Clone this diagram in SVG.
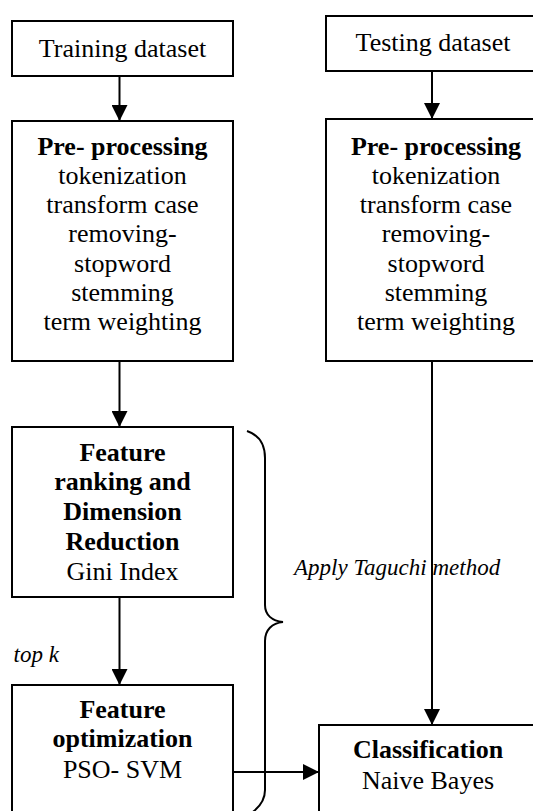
<svg xmlns="http://www.w3.org/2000/svg" width="533" height="811" viewBox="0 0 533 811">
<style>
.box{fill:#fff;stroke:#000;stroke-width:2}
.t{font-family:"Liberation Serif","Times New Roman",serif;font-size:26px;fill:#000;text-anchor:middle}
.b{font-weight:bold}
.i{font-family:"Liberation Serif","Times New Roman",serif;font-size:23px;font-style:italic;fill:#000}
.ln{fill:none;stroke:#000;stroke-width:2}
</style>
<defs>
<marker id="ah" markerWidth="16" markerHeight="16" refX="16" refY="8" orient="auto" markerUnits="userSpaceOnUse">
<path d="M0,0 L16,8 L0,16 Z" fill="#000"/>
</marker>
</defs>
<rect width="533" height="811" fill="#fff"/>
<g id="training">
<rect class="box" x="12" y="21" width="221" height="55"/>
<text class="t" x="122.5" y="57">Training dataset</text>
</g>
<g id="testing">
<rect class="box" x="326" y="16" width="220" height="55"/>
<text class="t" x="433" y="51">Testing dataset</text>
</g>
<g id="preproc-train">
<rect class="box" x="12" y="121" width="221" height="240"/>
<text class="t b" x="122.5" y="155">Pre- processing</text>
<text class="t" x="122.5" y="184">tokenization</text>
<text class="t" x="122.5" y="213">transform case</text>
<text class="t" x="122.5" y="242">removing-</text>
<text class="t" x="122.5" y="272">stopword</text>
<text class="t" x="122.5" y="301">stemming</text>
<text class="t" x="122.5" y="330">term weighting</text>
</g>
<g id="preproc-test">
<rect class="box" x="326" y="119" width="220" height="242"/>
<text class="t b" x="436" y="155">Pre- processing</text>
<text class="t" x="436" y="184">tokenization</text>
<text class="t" x="436" y="213">transform case</text>
<text class="t" x="436" y="242">removing-</text>
<text class="t" x="436" y="272">stopword</text>
<text class="t" x="436" y="301">stemming</text>
<text class="t" x="436" y="330">term weighting</text>
</g>
<g id="ranking">
<rect class="box" x="12" y="427" width="221" height="170"/>
<text class="t b" x="122.5" y="461">Feature</text>
<text class="t b" x="122.5" y="490">ranking and</text>
<text class="t b" x="122.5" y="520">Dimension</text>
<text class="t b" x="122.5" y="550">Reduction</text>
<text class="t" x="122.5" y="580">Gini Index</text>
</g>
<g id="optimization">
<rect class="box" x="12" y="685" width="221" height="140"/>
<text class="t b" x="122.5" y="718">Feature</text>
<text class="t b" x="122.5" y="747">optimization</text>
<text class="t" x="122.5" y="778">PSO- SVM</text>
</g>
<g id="classification">
<rect class="box" x="319" y="725" width="220" height="100"/>
<text class="t b" x="428" y="758">Classification</text>
<text class="t" x="428" y="789">Naive Bayes</text>
</g>
<g id="connectors">
<line class="ln" x1="119.5" y1="76" x2="119.5" y2="121" marker-end="url(#ah)"/>
<line class="ln" x1="432" y1="71" x2="432" y2="119" marker-end="url(#ah)"/>
<line class="ln" x1="119.5" y1="361" x2="119.5" y2="427" marker-end="url(#ah)"/>
<line class="ln" x1="119.5" y1="597" x2="119.5" y2="685" marker-end="url(#ah)"/>
<line class="ln" x1="432" y1="361" x2="432" y2="725" marker-end="url(#ah)"/>
<line class="ln" x1="233" y1="772" x2="319" y2="772" marker-end="url(#ah)"/>
</g>
<g id="brace">
<path class="ln" d="M247,431 C259,435 265,444 265,458 L265,605 C265,615 272,621 283,622 C272,623 265,630 265,641 L265,790 C265,800 259,808 250,814"/>
</g>
<g id="labels">
<text class="i" x="294" y="575">Apply Taguchi method</text>
<text class="i" x="13.5" y="662">top k</text>
</g>
</svg>
